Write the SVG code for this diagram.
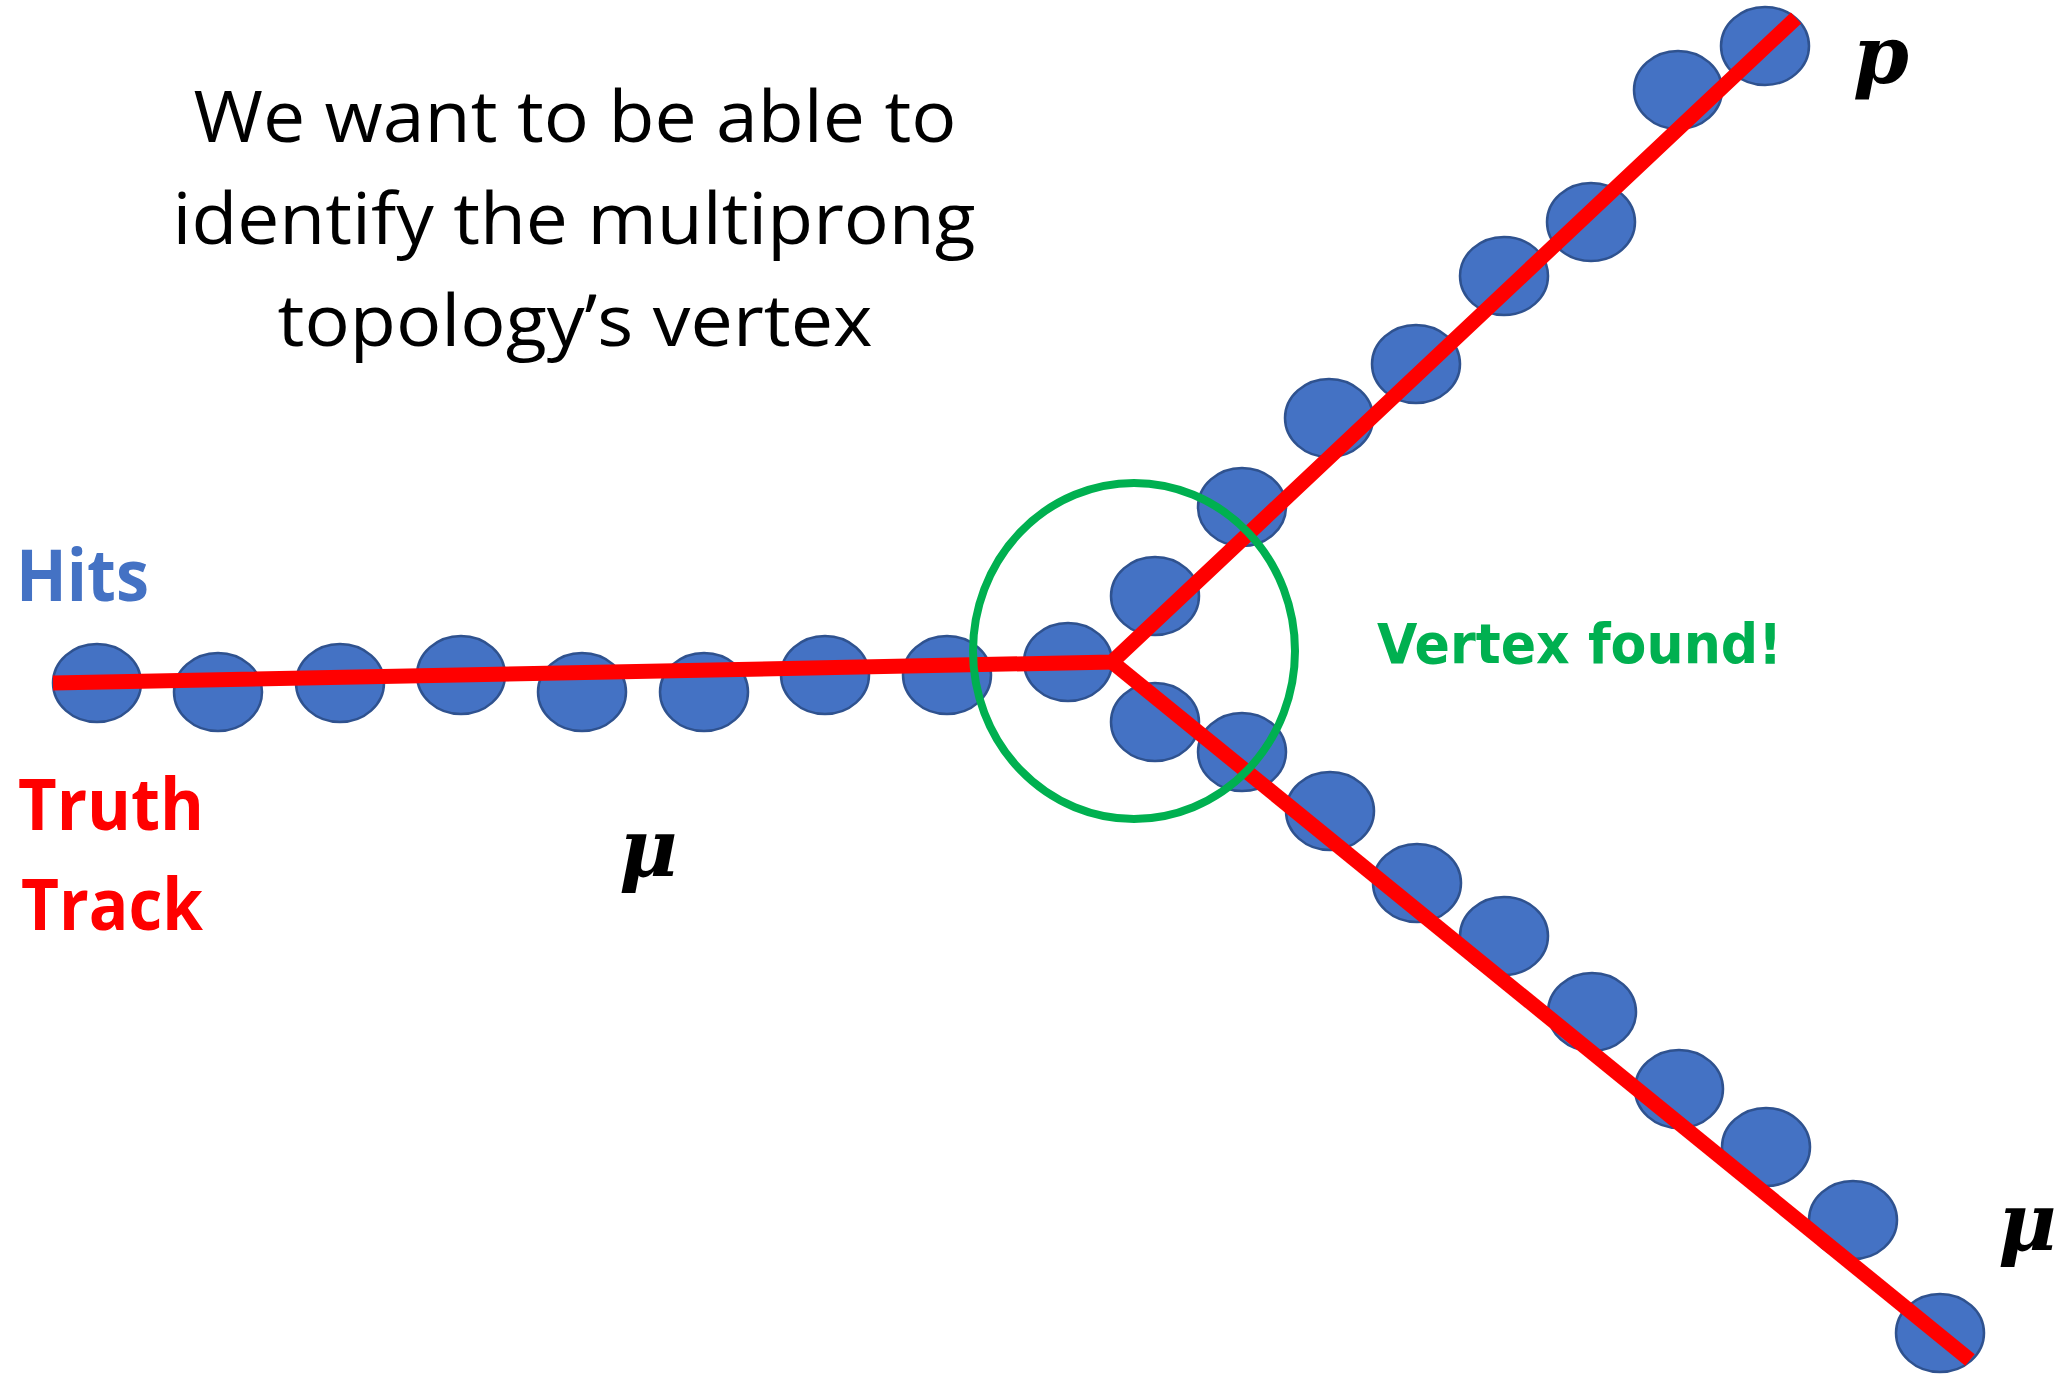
<svg xmlns="http://www.w3.org/2000/svg" width="2063" height="1375" viewBox="0 0 2063 1375">
  <style>
    .hit { fill: #4472C4; stroke: #2F528F; stroke-width: 2.5; }
    .track { fill: none; stroke: #FF0000; stroke-width: 15; stroke-linejoin: miter; stroke-linecap: butt; }
    .title { font-family: "Open Sans", "Noto Sans", sans-serif; font-size: 72px; fill: #000000; }
    .lbl { font-family: "Open Sans", "Noto Sans", sans-serif; font-weight: bold; font-size: 72px; }
    .greek { font-family: "DejaVu Serif", "Liberation Serif", serif; font-weight: bold; font-style: italic; font-size: 80px; fill: #000000; }
    .vtx { font-family: "DejaVu Sans", "Liberation Sans", sans-serif; font-weight: bold; font-size: 55px; fill: #00B050; }
  </style>
  <rect width="2063" height="1375" fill="#FFFFFF"/>

  <g id="title">
    <text class="title" x="575" y="142" text-anchor="middle" textLength="763" lengthAdjust="spacingAndGlyphs">We want to be able to</text>
    <text class="title" x="574" y="244" text-anchor="middle" textLength="803" lengthAdjust="spacingAndGlyphs">identify the multiprong</text>
    <text class="title" x="575" y="346" text-anchor="middle" textLength="595" lengthAdjust="spacingAndGlyphs">topology’s vertex</text>
  </g>

  <g id="hits">
    <g id="hits-muon-in">
      <ellipse class="hit" cx="97" cy="683" rx="44" ry="39"/>
      <ellipse class="hit" cx="218" cy="692" rx="44" ry="39"/>
      <ellipse class="hit" cx="340" cy="683" rx="44" ry="39"/>
      <ellipse class="hit" cx="461" cy="675" rx="44" ry="39"/>
      <ellipse class="hit" cx="582" cy="692" rx="44" ry="39"/>
      <ellipse class="hit" cx="704" cy="692" rx="44" ry="39"/>
      <ellipse class="hit" cx="825" cy="675" rx="44" ry="39"/>
      <ellipse class="hit" cx="947" cy="675" rx="44" ry="39"/>
      <ellipse class="hit" cx="1068" cy="662" rx="44" ry="39"/>
    </g>
    <g id="hits-proton">
      <ellipse class="hit" cx="1155" cy="596" rx="44" ry="39"/>
      <ellipse class="hit" cx="1242" cy="507" rx="44" ry="39"/>
      <ellipse class="hit" cx="1329" cy="418" rx="44" ry="39"/>
      <ellipse class="hit" cx="1416" cy="364" rx="44" ry="39"/>
      <ellipse class="hit" cx="1504" cy="276" rx="44" ry="39"/>
      <ellipse class="hit" cx="1591" cy="222" rx="44" ry="39"/>
      <ellipse class="hit" cx="1678" cy="90" rx="44" ry="39"/>
      <ellipse class="hit" cx="1765" cy="46" rx="44" ry="39"/>
    </g>
    <g id="hits-muon-out">
      <ellipse class="hit" cx="1155" cy="722" rx="44" ry="39"/>
      <ellipse class="hit" cx="1242" cy="752" rx="44" ry="39"/>
      <ellipse class="hit" cx="1330" cy="811" rx="44" ry="39"/>
      <ellipse class="hit" cx="1417" cy="883" rx="44" ry="39"/>
      <ellipse class="hit" cx="1504" cy="936" rx="44" ry="39"/>
      <ellipse class="hit" cx="1592" cy="1012" rx="44" ry="39"/>
      <ellipse class="hit" cx="1679" cy="1089" rx="44" ry="39"/>
      <ellipse class="hit" cx="1766" cy="1147" rx="44" ry="39"/>
      <ellipse class="hit" cx="1853" cy="1220" rx="44" ry="39"/>
      <ellipse class="hit" cx="1940" cy="1333" rx="44" ry="39"/>
    </g>
  </g>

  <g id="connectors">
    <path class="track" d="M53,683 L1112,662 L1796,18"/>
    <path class="track" d="M1112,662 L1970,1360"/>
  </g>

  <g id="vertex-circle">
    <ellipse cx="1134" cy="651" rx="161" ry="168" fill="none" stroke="#00B050" stroke-width="8"/>
  </g>

  <g id="label-hits">
    <text class="lbl" x="16" y="601" fill="#4472C4" textLength="133" lengthAdjust="spacingAndGlyphs">Hits</text>
  </g>
  <g id="label-truth-track">
    <text class="lbl" x="18" y="830" fill="#FF0000" textLength="186" lengthAdjust="spacingAndGlyphs">Truth</text>
    <text class="lbl" x="21" y="930" fill="#FF0000" textLength="182" lengthAdjust="spacingAndGlyphs">Track</text>
  </g>
  <g id="label-vertex-found">
    <text class="vtx" x="1377" y="663" textLength="405" lengthAdjust="spacingAndGlyphs">Vertex found!</text>
  </g>
  <g id="label-mu-in">
    <text class="greek" x="619" y="876">μ</text>
  </g>
  <g id="label-p">
    <text class="greek" x="1853" y="83">p</text>
  </g>
  <g id="label-mu-out">
    <text class="greek" x="1998" y="1250">μ</text>
  </g>
</svg>
